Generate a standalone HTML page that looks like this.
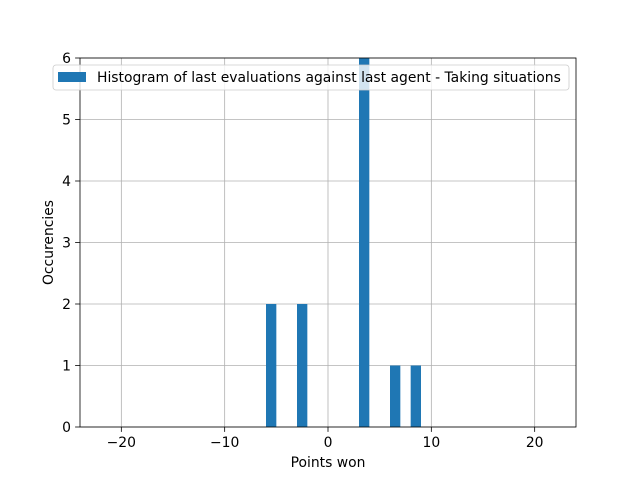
<!DOCTYPE html>
<html><head><meta charset="utf-8"><style>
body{margin:0;background:#fff;}
svg{display:block;font-family:"DejaVu Sans","Liberation Sans",sans-serif;}
</style></head><body>
<svg id="chart" width="640" height="480">
<rect width="640" height="480" fill="#fff"/>
<g id="grid"></g><g id="bars"></g><g id="axes"></g>
</svg>
<script>
const binLefts = [-6, -3, 3, 6, 8];
const counts = [2, 2, 6, 1, 1];
const binWidth = 1;
const xTicks = [-20, -10, 0, 10, 20];
const yTicks = [0, 1, 2, 3, 4, 5, 6];
const xMin=-24, xMax=24, yMin=0, yMax=6;
const L=80, R=576, T=58, B=427;
const FS=13.9;
const sx=v=>L+(v-xMin)/(xMax-xMin)*(R-L);
const sy=v=>B-(v-yMin)/(yMax-yMin)*(B-T);
const NS="http://www.w3.org/2000/svg";
function mk(tag, attrs, parent, text){const e=document.createElementNS(NS,tag);for(const k in attrs)e.setAttribute(k,attrs[k]);if(text!==undefined)e.textContent=text;parent.appendChild(e);return e;}
const grid=document.getElementById('grid'), bars=document.getElementById('bars'), axes=document.getElementById('axes');
xTicks.forEach(t=>{
  const g=mk('line',{x1:sx(t),x2:sx(t),y1:T,y2:B,stroke:'#b0b0b0','stroke-width':0.8},grid);
  
  
  mk('line',{x1:sx(t),x2:sx(t),y1:B,y2:B+4.9,stroke:'#000','stroke-width':0.8},axes);
  const lb=mk('text',{x:sx(t),y:B+20,'text-anchor':'middle','font-size':FS,fill:'#000'},axes,t<0?'\u2212'+(-t):String(t));
  
  
});
yTicks.forEach(t=>{
  const g=mk('line',{x1:L,x2:R,y1:sy(t),y2:sy(t),stroke:'#b0b0b0','stroke-width':0.8},grid);
  
  
  mk('line',{x1:L-4.9,x2:L,y1:sy(t),y2:sy(t),stroke:'#000','stroke-width':0.8},axes);
  const lb=mk('text',{x:L-9,y:sy(t)+5,'text-anchor':'end','font-size':FS,fill:'#000'},axes,String(t));
  
  
});
binLefts.forEach((b,i)=>{
  const r=mk('rect',{x:sx(b),y:sy(counts[i]),width:sx(b+binWidth)-sx(b),height:sy(0)-sy(counts[i]),fill:'#1f77b4'},bars);
  
  
});
const fr=mk('rect',{x:L,y:T,width:R-L,height:B-T,fill:'none',stroke:'#000','stroke-width':0.8},axes);


const xt=mk('text',{x:(L+R)/2,y:467,'text-anchor':'middle','font-size':FS,fill:'#000'},axes,'Points won');


const yt=mk('text',{x:0,y:0,transform:'translate(53,'+((T+B)/2)+') rotate(-90)','text-anchor':'middle','font-size':FS,fill:'#000'},axes,'Occurencies');


const lg=mk('g',{},axes);


mk('rect',{x:53,y:65,width:516,height:25,rx:3,fill:'#fff','fill-opacity':0.8,stroke:'#ccc','stroke-width':0.8},lg);
const sw=mk('rect',{x:58,y:72,width:28,height:10,fill:'#1f77b4'},lg);


const lt=mk('text',{x:97,y:82,'font-size':FS,fill:'#000'},lg,'Histogram of last evaluations against last agent - Taking situations');


</script>
</body></html>
